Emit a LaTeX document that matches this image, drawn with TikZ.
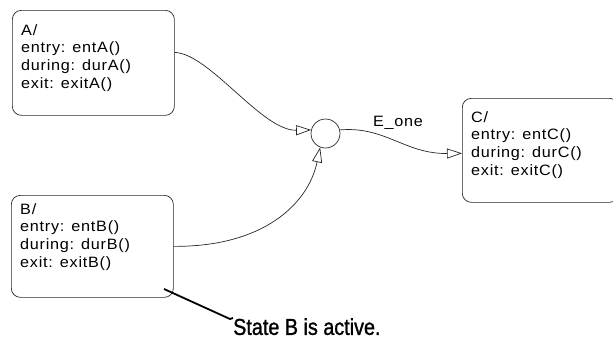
\documentclass[tikz,border=0pt]{standalone}
\usepackage{fontspec}
\setmainfont{Liberation Sans}
\newfontfamily\boxfont[FakeStretch=1.08,LetterSpace=5]{Liberation Sans}
\newfontfamily\notefont[FakeStretch=0.86,FakeBold=1.2]{Liberation Sans}
\usetikzlibrary{arrows.meta,calc}
\begin{document}
\begin{tikzpicture}[x=1pt,y=-1pt,
  statebox/.style={draw=black!85, line width=0.7pt, rounded corners=9pt, inner sep=0pt, anchor=north west},
  statetext/.style={anchor=north west, inner sep=0pt, align=left, font=\boxfont\fontsize{15}{17.8}\selectfont},
  trans/.style={draw=black!85, line width=0.7pt, -{Triangle[open, length=15pt, width=10pt]}},
  callout/.style={draw=black, line width=1.8pt}]
\useasboundingbox (0,0) rectangle (613,349);
\begin{scope}
\clip (0,0) rectangle (613,349);
% states
\node[statebox, minimum width=162pt, minimum height=105pt] (A) at (12,10) {};
\node[statebox, minimum width=162pt, minimum height=102pt] (B) at (11,195) {};
\node[statebox, minimum width=156pt, minimum height=104pt] (C) at (462,98) {};
\node[statetext] (At) at (21,24) {A/\\entry: entA()\\during: durA()\\exit: exitA()};
\node[statetext] (Bt) at (20,203) {B/\\entry: entB()\\during: durB()\\exit: exitB()};
\node[statetext] (Ct) at (471,111) {C/\\entry: entC()\\during: durC()\\exit: exitC()};
% junction
\node[draw=black!85, line width=0.7pt, circle, minimum size=29pt, inner sep=0pt] (J) at (325.5,133.5) {};
% transitions
\draw[trans] ([yshift=10.5pt]A.east) .. controls (210,54) and (262,131) .. (J.166);
\draw[trans] (B.east) .. controls (262,247) and (308,205) .. (J.249);
\draw[trans] (J.14) .. controls (385,126) and (405,154) .. ([yshift=-3pt]C.west);
\node[font=\boxfont\fontsize{15}{17}\selectfont, anchor=base] (E) at (398,126) {E\_one};
% callout
\node[anchor=north west, inner sep=0pt, font=\notefont\fontsize{23}{25}\selectfont] (note) at (233,318) {State B is active.};
\coordinate (ctip) at (164,289);
\draw[callout] (ctip) -- ([xshift=-3pt,yshift=-1pt]note.north west) -- (note.north west);
\end{scope}
\end{tikzpicture}
\end{document}
